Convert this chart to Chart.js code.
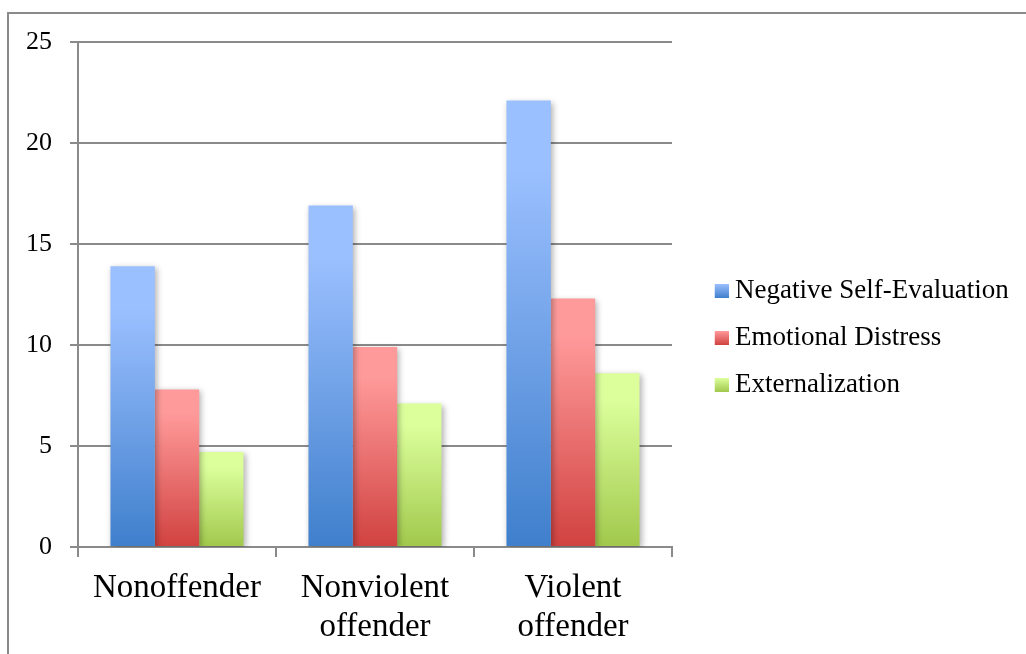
<!DOCTYPE html>
<html>
<head>
<meta charset="utf-8">
<style>
  html, body { margin: 0; padding: 0; background: #ffffff; }
  #wrap { width: 1026px; height: 654px; position: relative; }
</style>
<script src="https://cdn.jsdelivr.net/npm/chart.js@4/dist/chart.umd.min.js"></script>
</head>
<body>
<div id="wrap"><canvas id="chart" width="1026" height="654"></canvas></div>
<script>
// Groups along the x axis (multi-line labels)
const categories = [['Nonoffender'], ['Nonviolent', 'offender'], ['Violent', 'offender']];

// Mean scores per group
const negativeSelfEvaluation = [13.9, 16.9, 22.1];
const emotionalDistress = [7.8, 9.9, 12.3];
const externalization = [4.7, 7.1, 8.6];

const seriesNames = ['Negative Self-Evaluation', 'Emotional Distress', 'Externalization'];
const yTicks = [0, 5, 10, 15, 20, 25];

// Top (light) and bottom (dark) shades of each series
const shades = [
  ['#9bc0ff', '#3f7fcc'],
  ['#ff9a9a', '#d04240'],
  ['#dcff9c', '#a1c84c']
];

const GRID = '#8a8a8a';
const FONT = "'Liberation Serif', 'Times New Roman', serif";

// Vertical gradient spanning each individual bar
function barGradient(idx) {
  return function (ctx) {
    const chart = ctx.chart;
    const y = chart.scales.y;
    if (!chart.chartArea || !y || ctx.raw == null) return shades[idx][1];
    const top = y.getPixelForValue(ctx.raw);
    const base = y.getPixelForValue(0);
    const g = chart.ctx.createLinearGradient(0, top, 0, base);
    g.addColorStop(0, shades[idx][0]);
    g.addColorStop(0.15, shades[idx][0]);
    g.addColorStop(1, shades[idx][1]);
    return g;
  };
}

// Small gradient swatch used as the legend marker
function swatch(idx) {
  const c = document.createElement('canvas');
  c.width = 44; c.height = 14;
  const x = c.getContext('2d');
  const g = x.createLinearGradient(0, 0, 0, 14);
  g.addColorStop(0, shades[idx][0]);
  g.addColorStop(1, shades[idx][1]);
  x.fillStyle = g;
  x.fillRect(30, 0, 14, 14);
  return c;
}
const swatches = [0, 1, 2].map(swatch);

// Gray frame along the top and left edge
const framePlugin = {
  id: 'frame',
  beforeDraw(chart) {
    const c = chart.ctx;
    c.save();
    c.strokeStyle = '#8a8a8a';
    c.lineWidth = 2;
    c.beginPath();
    c.moveTo(8, chart.height + 2);
    c.lineTo(8, 13);
    c.lineTo(chart.width + 2, 13);
    c.stroke();
    c.restore();
  }
};

// Soft drop shadow behind the bars
const shadowPlugin = {
  id: 'barShadow',
  beforeDatasetsDraw(chart) {
    const c = chart.ctx;
    c.save();
    c.shadowColor = 'rgba(0,0,0,0.3)';
    c.shadowBlur = 6;
    c.shadowOffsetX = 2;
    c.shadowOffsetY = 2;
  },
  afterDatasetsDraw(chart) {
    chart.ctx.restore();
  }
};

const seriesValues = [negativeSelfEvaluation, emotionalDistress, externalization];

new Chart(document.getElementById('chart'), {
  type: 'bar',
  data: {
    labels: categories,
    datasets: seriesValues.map((vals, i) => ({
      label: seriesNames[i],
      data: vals,
      backgroundColor: barGradient(i),
      borderWidth: 0,
      categoryPercentage: 0.672,
      barPercentage: 1.0
    }))
  },
  options: {
    responsive: false,
    animation: false,
    layout: { padding: { top: 22, bottom: 0, left: 0, right: 14 } },
    plugins: {
      tooltip: { enabled: false },
      // blank band above the plot area
      title: { display: true, text: '', padding: 0, font: { size: 20, lineHeight: 1 } },
      legend: {
        position: 'right',
        align: 'center',
        maxWidth: 340,
        labels: {
          usePointStyle: true,
          pointStyleWidth: 29.5,
          padding: 20,
          color: '#000',
          font: { family: FONT, size: 27 },
          generateLabels(chart) {
            return chart.data.datasets.map((ds, i) => ({
              text: ds.label,
              pointStyle: swatches[i],
              datasetIndex: i,
              hidden: false,
              lineWidth: 0,
              fillStyle: shades[i][1],
              strokeStyle: 'rgba(0,0,0,0)',
              fontColor: '#000'
            }));
          }
        }
      }
    },
    scales: {
      x: {
        afterFit(scale) { scale.height = 107; },
        grid: {
          display: true,
          drawOnChartArea: false,
          drawTicks: true,
          tickLength: 10,
          color: GRID,
          lineWidth: 2,
          offset: true
        },
        border: { display: true, color: GRID, width: 2 },
        ticks: {
          color: '#000',
          padding: 12,
          maxRotation: 0,
          autoSkip: false,
          font: { family: FONT, size: 33, lineHeight: 1.18 }
        }
      },
      y: {
        min: 0,
        max: 25,
        afterFit(scale) { scale.width = 78; },
        afterBuildTicks(scale) { scale.ticks = yTicks.map(v => ({ value: v })); },
        grid: { color: GRID, lineWidth: 2, tickLength: 8, drawTicks: true },
        border: { display: true, color: GRID, width: 2 },
        ticks: {
          color: '#000',
          padding: 18,
          font: { family: FONT, size: 26 }
        }
      }
    }
  },
  plugins: [framePlugin, shadowPlugin]
});
</script>
</body>
</html>
